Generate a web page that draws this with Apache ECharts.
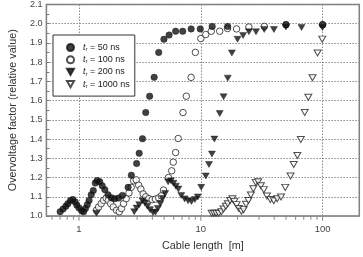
<!DOCTYPE html>
<html><head><meta charset="utf-8">
<script src="https://cdn.jsdelivr.net/npm/echarts@6/dist/echarts.min.js"></script>
<style>html,body{margin:0;padding:0;background:#fff}#c{width:363px;height:257px}</style>
</head><body><div id="c"></div>
<script>
// Cable length [m] and overvoltage factor for each rise time
const len50 = [0.70,0.74,0.78,0.81,0.85,0.89,0.93,0.96,1.0,1.05,1.09,1.13,1.17,1.21,1.26,1.31,1.36,1.41,1.48,1.55,1.63,1.73,1.84,1.96,2.11,2.27,2.53,2.69,2.97,3.12,3.32,3.53,3.8,4.14,4.51,4.98,5.49,6.21,7.1,8.33,9.89,12.4,16.6,50,100];
const val50 = [1.022,1.036,1.051,1.064,1.080,1.086,1.073,1.056,1.042,1.027,1.022,1.039,1.059,1.081,1.110,1.132,1.171,1.184,1.178,1.157,1.137,1.110,1.095,1.090,1.093,1.107,1.149,1.212,1.273,1.326,1.402,1.538,1.623,1.721,1.851,1.919,1.941,1.961,1.961,1.973,1.973,1.986,1.986,1.995,1.995];
const len100 = [1.39,1.45,1.52,1.59,1.67,1.74,1.82,1.91,2.03,2.14,2.23,2.32,2.44,2.57,2.68,2.81,2.95,3.09,3.22,3.36,3.53,3.75,3.99,4.24,4.51,4.74,4.94,5.42,5.77,5.94,6.21,6.52,7.14,7.6,8.33,9.02,10.0,10.98,12.18,14.29,16.56,19.65,24.8,33.2,50,100];
const val100 = [1.03,1.047,1.064,1.081,1.093,1.081,1.064,1.047,1.03,1.022,1.039,1.064,1.09,1.12,1.149,1.183,1.188,1.16,1.14,1.115,1.10,1.09,1.085,1.088,1.095,1.105,1.135,1.20,1.235,1.28,1.33,1.403,1.538,1.623,1.721,1.851,1.923,1.944,1.961,1.961,1.975,1.973,1.983,1.986,1.995,1.995];
const len200 = [1.39,2.84,2.97,3.12,3.32,3.48,3.64,3.83,4.05,4.24,4.44,4.65,4.85,5.10,5.39,5.69,5.96,6.24,6.54,6.91,7.37,7.86,8.38,8.94,9.45,10.07,10.98,11.67,12.34,12.92,14.29,15.38,16.65,17.99,20.02,22.23,24.82,28.39,33.15,39.84,49.96,67.1,99.6];
const val200 = [1.014,1.022,1.041,1.059,1.079,1.067,1.051,1.033,1.018,1.02,1.039,1.064,1.091,1.117,1.178,1.183,1.17,1.155,1.14,1.107,1.089,1.079,1.076,1.086,1.099,1.149,1.208,1.268,1.322,1.40,1.533,1.62,1.717,1.848,1.919,1.939,1.958,1.958,1.97,1.97,1.983,1.98,1.98];
const len1000 = [12.27,12.8,13.35,14.03,14.75,15.38,16.05,16.65,17.4,18.16,18.84,19.65,20.54,21.54,22.44,23.49,24.6,25.76,26.97,28.23,29.57,31.13,32.9,34.9,37.22,39.7,42.35,45.57,49.32,54.5,57.9,62.0,66.2,71.3,76.3,82.6,90.9,99.3];
const val1000 = [1.014,1.014,1.014,1.014,1.022,1.036,1.051,1.064,1.081,1.09,1.076,1.059,1.039,1.025,1.033,1.061,1.081,1.109,1.142,1.175,1.178,1.157,1.137,1.104,1.086,1.079,1.09,1.099,1.149,1.208,1.268,1.315,1.398,1.538,1.618,1.719,1.848,1.92];
const seriesNames = ['50 ns','100 ns','200 ns','1000 ns'];
const xMajorTicks = [1,10,100];
const xMinorTicks = [0.6,0.7,0.8,0.9,2,3,4,5,6,7,8,9,20,30,40,50,60,70,80,90];
const xLabelValues = [1,10,100];

const FONT = '"Liberation Sans", Arial, sans-serif';
const TRI = 'path://M0,0L10,0L5,9Z';
const pairs = (xs, ys) => xs.map((x, i) => [x, ys[i]]);
const filled = {color:'#111', borderColor:'#111', borderWidth:0.5};
const hollow = {color:'#fff', borderColor:'#222', borderWidth:1};

const chart = echarts.init(document.getElementById('c'), null, {renderer:'canvas'});
chart.setOption({
  animation:false,
  backgroundColor:'#fff',
  textStyle:{fontFamily:FONT},
  grid:{left:38, right:3.7, top:4.3, bottom:36, show:true, borderColor:'#7a7a7a', borderWidth:1.5, backgroundColor:'transparent'},
  xAxis:{
    type:'log', logBase:10, min:0.54, max:200,
    name:'Cable length  [m]', nameLocation:'middle', nameGap:25,
    nameTextStyle:{fontSize:10.8, color:'#333', fontFamily:FONT},
    axisLine:{show:false}, axisTick:{show:false},
    axisLabel:{margin:8, fontSize:9.5, color:'#444', fontFamily:FONT, showMinLabel:false, showMaxLabel:false,
      formatter:v => xLabelValues.some(t => Math.abs(v - t) < 1e-6 * t) ? String(Math.round(v)) : ''},
    splitLine:{show:true, lineStyle:{color:'#8a8a8a', type:[1.5,1.5], width:1}},
    minorTick:{show:false}, minorSplitLine:{show:false}
  },
  yAxis:{
    type:'value', min:1.0, max:2.1, interval:0.1,
    name:'Overvoltage factor (relative value)', nameLocation:'middle', nameGap:26,
    nameTextStyle:{fontSize:10.8, color:'#333', fontFamily:FONT},
    axisLine:{show:false},
    axisTick:{show:true, inside:true, length:3, lineStyle:{color:'#777'}},
    minorTick:{show:true, splitNumber:2, length:3, lineStyle:{color:'#777'}},
    axisLabel:{margin:4, fontSize:9, color:'#444', fontFamily:FONT, formatter:v => v.toFixed(1)},
    splitLine:{show:true, lineStyle:{color:'#8a8a8a', type:[1.5,1.5], width:1}}
  },
  legend:{
    data:seriesNames, orient:'vertical', left:53, top:35,
    padding:[8,5,7,13], itemGap:2.7, itemWidth:7, itemHeight:7,
    backgroundColor:'#fff', borderColor:'#333', borderWidth:1, borderRadius:0,
    selectedMode:false,
    formatter:name => '{i|t}{s|r}{n| = ' + name + '}',
    textStyle:{fontFamily:FONT, color:'#222', rich:{
      i:{fontStyle:'italic', fontSize:9, lineHeight:10, padding:[0,0,0,4], fontFamily:FONT, color:'#222'},
      s:{fontSize:6, lineHeight:10, verticalAlign:'bottom', fontFamily:FONT, color:'#222'},
      n:{fontSize:9, lineHeight:10, fontFamily:FONT, color:'#222'}
    }}
  },
  series:[
    {name:'x minor ticks', type:'scatter', silent:true, clip:false, symbol:'rect', symbolSize:[1,3], symbolOffset:[0,2.2],
     itemStyle:{color:'#666'}, data:xMinorTicks.map(v => [v, 1.0]), z:1},
    {name:'x major ticks', type:'scatter', silent:true, clip:false, symbol:'rect', symbolSize:[1,4], symbolOffset:[0,2.7],
     itemStyle:{color:'#666'}, data:xMajorTicks.map(v => [v, 1.0]), z:1},
    {name:'50 ns', type:'scatter', symbol:'circle', symbolSize:6.5, itemStyle:filled, data:pairs(len50, val50), z:5},
    {name:'100 ns', type:'scatter', symbol:'circle', symbolSize:6.5, itemStyle:hollow, data:pairs(len100, val100), z:4},
    {name:'200 ns', type:'scatter', symbol:TRI, symbolSize:[7,6], itemStyle:filled, data:pairs(len200, val200), z:6},
    {name:'1000 ns', type:'scatter', symbol:TRI, symbolSize:[7,6], itemStyle:hollow, data:pairs(len1000, val1000), z:3}
  ]
});
</script></body></html>
